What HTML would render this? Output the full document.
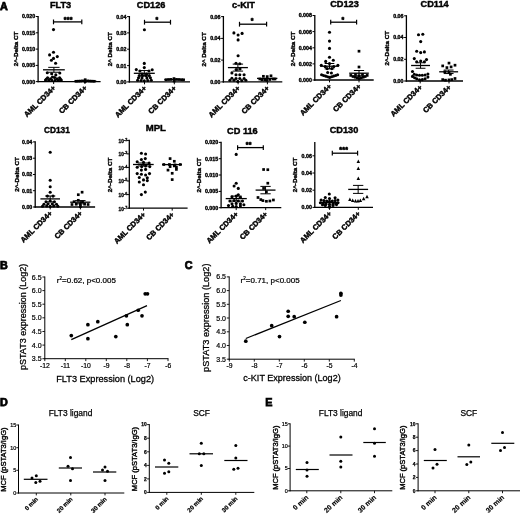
<!DOCTYPE html>
<html lang="en"><head><meta charset="utf-8"><title>Figure</title>
<style>html,body{margin:0;padding:0;background:#fff}svg{display:block}text{stroke:none}text.b,text.r{stroke:#000}circle,rect,polygon{stroke:none}</style></head><body>
<svg width="520" height="514" viewBox="0 0 520 514" font-family='"Liberation Sans", Arial, sans-serif' fill="#000" stroke="#000" stroke-linecap="butt">
<rect x="0" y="0" width="520" height="514" fill="#fff" stroke="none"/>
<g>
<text x="0.10" y="10.00" font-size="10.8" font-weight="bold" class="b" stroke-width="0.75" text-anchor="start">A</text>
<text x="0.00" y="269.20" font-size="10.8" font-weight="bold" class="b" stroke-width="0.75" text-anchor="start">B</text>
<text x="184.80" y="269.20" font-size="10.8" font-weight="bold" class="b" stroke-width="0.75" text-anchor="start">C</text>
<text x="0.00" y="406.20" font-size="10.8" font-weight="bold" class="b" stroke-width="0.75" text-anchor="start">D</text>
<text x="265.20" y="406.40" font-size="10.8" font-weight="bold" class="b" stroke-width="0.75" text-anchor="start">E</text>
<text x="60.60" y="7.70" font-size="9.2" font-weight="bold" class="b" stroke-width="0.41" text-anchor="middle">FLT3</text>
<line x1="38.10" y1="15.90" x2="38.10" y2="82.25" stroke-width="1.3"/>
<line x1="37.45" y1="81.60" x2="100.60" y2="81.60" stroke-width="1.3"/>
<line x1="35.80" y1="16.50" x2="38.10" y2="16.50" stroke-width="1.0"/>
<text x="35.20" y="18.40" font-size="5.3" font-weight="bold" class="b" stroke-width="0.36" text-anchor="end">0.020</text>
<line x1="35.80" y1="32.80" x2="38.10" y2="32.80" stroke-width="1.0"/>
<text x="35.20" y="34.70" font-size="5.3" font-weight="bold" class="b" stroke-width="0.36" text-anchor="end">0.015</text>
<line x1="35.80" y1="49.10" x2="38.10" y2="49.10" stroke-width="1.0"/>
<text x="35.20" y="51.00" font-size="5.3" font-weight="bold" class="b" stroke-width="0.36" text-anchor="end">0.010</text>
<line x1="35.80" y1="65.40" x2="38.10" y2="65.40" stroke-width="1.0"/>
<text x="35.20" y="67.30" font-size="5.3" font-weight="bold" class="b" stroke-width="0.36" text-anchor="end">0.005</text>
<line x1="35.80" y1="81.60" x2="38.10" y2="81.60" stroke-width="1.0"/>
<text x="35.20" y="83.50" font-size="5.3" font-weight="bold" class="b" stroke-width="0.36" text-anchor="end">0.000</text>
<line x1="53.65" y1="81.60" x2="53.65" y2="84.00" stroke-width="1.0"/>
<line x1="84.95" y1="81.60" x2="84.95" y2="84.00" stroke-width="1.0"/>
<text x="18.40" y="48.90" font-size="6.25" font-weight="bold" class="b" stroke-width="0.38" text-anchor="middle" transform="rotate(-90 18.40 48.90)">2^-Delta CT</text>
<text x="56.15" y="88.50" font-size="7.4" font-weight="bold" class="b" stroke-width="0.42" text-anchor="end" transform="rotate(-45 56.15 88.50)">AML CD34+</text>
<text x="87.45" y="88.50" font-size="7.4" font-weight="bold" class="b" stroke-width="0.42" text-anchor="end" transform="rotate(-45 87.45 88.50)">CB CD34+</text>
<line x1="53.50" y1="21.90" x2="81.80" y2="21.90" stroke-width="1.3"/>
<line x1="53.50" y1="19.50" x2="53.50" y2="24.30" stroke-width="1.2"/>
<line x1="81.80" y1="19.50" x2="81.80" y2="24.30" stroke-width="1.2"/>
<text x="68.30" y="21.90" font-size="7.0" font-weight="bold" class="b" stroke-width="0.55" text-anchor="middle" letter-spacing="0.3">***</text>
<circle cx="53.50" cy="29.60" r="1.55"/>
<circle cx="53.50" cy="52.30" r="1.55"/>
<circle cx="49.60" cy="54.90" r="1.55"/>
<circle cx="57.30" cy="56.60" r="1.55"/>
<circle cx="53.50" cy="58.40" r="1.55"/>
<circle cx="51.40" cy="60.20" r="1.55"/>
<circle cx="55.60" cy="63.30" r="1.55"/>
<circle cx="47.30" cy="72.80" r="1.55"/>
<circle cx="59.80" cy="73.00" r="1.55"/>
<circle cx="51.70" cy="73.70" r="1.55"/>
<circle cx="55.80" cy="74.90" r="1.55"/>
<circle cx="47.60" cy="77.80" r="1.55"/>
<circle cx="52.50" cy="77.00" r="1.55"/>
<circle cx="54.60" cy="77.50" r="1.55"/>
<circle cx="59.60" cy="77.80" r="1.55"/>
<circle cx="46.40" cy="79.00" r="1.55"/>
<circle cx="50.50" cy="78.70" r="1.55"/>
<circle cx="57.00" cy="78.70" r="1.55"/>
<circle cx="60.40" cy="79.00" r="1.55"/>
<circle cx="45.50" cy="80.10" r="1.55"/>
<circle cx="48.80" cy="80.40" r="1.55"/>
<circle cx="52.00" cy="80.40" r="1.55"/>
<circle cx="55.20" cy="80.40" r="1.55"/>
<circle cx="58.40" cy="80.40" r="1.55"/>
<circle cx="61.30" cy="80.10" r="1.55"/>
<rect x="74.65" y="79.95" width="2.7" height="2.7"/>
<rect x="76.85" y="79.85" width="2.7" height="2.7"/>
<rect x="79.05" y="79.75" width="2.7" height="2.7"/>
<rect x="81.25" y="79.55" width="2.7" height="2.7"/>
<rect x="83.85" y="78.35" width="2.7" height="2.7"/>
<rect x="86.25" y="79.55" width="2.7" height="2.7"/>
<rect x="88.45" y="79.75" width="2.7" height="2.7"/>
<rect x="90.65" y="79.85" width="2.7" height="2.7"/>
<rect x="92.85" y="79.95" width="2.7" height="2.7"/>
<rect x="83.85" y="80.25" width="2.7" height="2.7"/>
<line x1="43.00" y1="69.80" x2="64.80" y2="69.80" stroke-width="1.3"/>
<line x1="48.23" y1="67.35" x2="59.57" y2="67.35" stroke-width="1.0"/>
<line x1="48.23" y1="72.25" x2="59.57" y2="72.25" stroke-width="1.0"/>
<line x1="53.90" y1="67.35" x2="53.90" y2="72.25" stroke-width="1.0"/>
<line x1="74.40" y1="81.20" x2="96.40" y2="81.20" stroke-width="1.3"/>
<text x="151.10" y="7.70" font-size="9.2" font-weight="bold" class="b" stroke-width="0.41" text-anchor="middle">CD126</text>
<line x1="129.40" y1="16.00" x2="129.40" y2="82.55" stroke-width="1.3"/>
<line x1="128.75" y1="81.90" x2="190.00" y2="81.90" stroke-width="1.3"/>
<line x1="127.10" y1="16.60" x2="129.40" y2="16.60" stroke-width="1.0"/>
<text x="126.50" y="18.50" font-size="5.3" font-weight="bold" class="b" stroke-width="0.36" text-anchor="end">0.04</text>
<line x1="127.10" y1="32.90" x2="129.40" y2="32.90" stroke-width="1.0"/>
<text x="126.50" y="34.80" font-size="5.3" font-weight="bold" class="b" stroke-width="0.36" text-anchor="end">0.03</text>
<line x1="127.10" y1="49.20" x2="129.40" y2="49.20" stroke-width="1.0"/>
<text x="126.50" y="51.10" font-size="5.3" font-weight="bold" class="b" stroke-width="0.36" text-anchor="end">0.02</text>
<line x1="127.10" y1="65.60" x2="129.40" y2="65.60" stroke-width="1.0"/>
<text x="126.50" y="67.50" font-size="5.3" font-weight="bold" class="b" stroke-width="0.36" text-anchor="end">0.01</text>
<line x1="127.10" y1="81.90" x2="129.40" y2="81.90" stroke-width="1.0"/>
<text x="126.50" y="83.80" font-size="5.3" font-weight="bold" class="b" stroke-width="0.36" text-anchor="end">0.00</text>
<line x1="144.50" y1="81.90" x2="144.50" y2="84.30" stroke-width="1.0"/>
<line x1="174.30" y1="81.90" x2="174.30" y2="84.30" stroke-width="1.0"/>
<text x="111.60" y="49.20" font-size="6.25" font-weight="bold" class="b" stroke-width="0.38" text-anchor="middle" transform="rotate(-90 111.60 49.20)">2^ Delta CT</text>
<text x="147.00" y="88.80" font-size="7.4" font-weight="bold" class="b" stroke-width="0.42" text-anchor="end" transform="rotate(-45 147.00 88.80)">AML CD34+</text>
<text x="176.80" y="88.80" font-size="7.4" font-weight="bold" class="b" stroke-width="0.42" text-anchor="end" transform="rotate(-45 176.80 88.80)">CB CD34+</text>
<line x1="144.50" y1="22.20" x2="170.50" y2="22.20" stroke-width="1.3"/>
<line x1="144.50" y1="19.80" x2="144.50" y2="24.60" stroke-width="1.2"/>
<line x1="170.50" y1="19.80" x2="170.50" y2="24.60" stroke-width="1.2"/>
<text x="156.95" y="22.00" font-size="7.0" font-weight="bold" class="b" stroke-width="0.55" text-anchor="middle" letter-spacing="0.3">*</text>
<circle cx="144.40" cy="29.70" r="1.55"/>
<circle cx="144.30" cy="63.40" r="1.55"/>
<circle cx="144.30" cy="67.60" r="1.55"/>
<circle cx="136.30" cy="69.60" r="1.55"/>
<circle cx="152.20" cy="69.70" r="1.55"/>
<circle cx="139.90" cy="71.00" r="1.55"/>
<circle cx="149.00" cy="71.00" r="1.55"/>
<circle cx="142.00" cy="74.05" r="1.55"/>
<circle cx="146.60" cy="74.05" r="1.55"/>
<circle cx="139.30" cy="75.50" r="1.55"/>
<circle cx="142.50" cy="75.60" r="1.55"/>
<circle cx="146.00" cy="75.60" r="1.55"/>
<circle cx="149.30" cy="75.50" r="1.55"/>
<circle cx="138.50" cy="77.80" r="1.55"/>
<circle cx="142.00" cy="78.10" r="1.55"/>
<circle cx="146.90" cy="78.10" r="1.55"/>
<circle cx="150.40" cy="77.80" r="1.55"/>
<circle cx="137.60" cy="80.20" r="1.55"/>
<circle cx="141.10" cy="80.50" r="1.55"/>
<circle cx="144.30" cy="80.80" r="1.55"/>
<circle cx="147.80" cy="80.50" r="1.55"/>
<circle cx="151.30" cy="80.20" r="1.55"/>
<rect x="164.65" y="78.35" width="2.7" height="2.7"/>
<rect x="167.15" y="78.15" width="2.7" height="2.7"/>
<rect x="169.65" y="78.05" width="2.7" height="2.7"/>
<rect x="172.65" y="77.25" width="2.7" height="2.7"/>
<rect x="175.15" y="78.05" width="2.7" height="2.7"/>
<rect x="177.65" y="78.15" width="2.7" height="2.7"/>
<rect x="180.15" y="78.35" width="2.7" height="2.7"/>
<rect x="182.15" y="78.45" width="2.7" height="2.7"/>
<rect x="172.85" y="79.65" width="2.7" height="2.7"/>
<line x1="133.80" y1="73.30" x2="154.80" y2="73.30" stroke-width="1.3"/>
<line x1="138.84" y1="70.55" x2="149.76" y2="70.55" stroke-width="1.0"/>
<line x1="138.84" y1="76.05" x2="149.76" y2="76.05" stroke-width="1.0"/>
<line x1="144.30" y1="70.55" x2="144.30" y2="76.05" stroke-width="1.0"/>
<line x1="164.30" y1="79.60" x2="184.90" y2="79.60" stroke-width="1.3"/>
<text x="243.50" y="7.50" font-size="9.2" font-weight="bold" class="b" stroke-width="0.41" text-anchor="middle">c-KIT</text>
<line x1="223.40" y1="16.00" x2="223.40" y2="82.55" stroke-width="1.3"/>
<line x1="222.75" y1="81.90" x2="282.30" y2="81.90" stroke-width="1.3"/>
<line x1="221.10" y1="16.60" x2="223.40" y2="16.60" stroke-width="1.0"/>
<text x="220.50" y="18.50" font-size="5.3" font-weight="bold" class="b" stroke-width="0.36" text-anchor="end">0.06</text>
<line x1="221.10" y1="38.40" x2="223.40" y2="38.40" stroke-width="1.0"/>
<text x="220.50" y="40.30" font-size="5.3" font-weight="bold" class="b" stroke-width="0.36" text-anchor="end">0.04</text>
<line x1="221.10" y1="60.10" x2="223.40" y2="60.10" stroke-width="1.0"/>
<text x="220.50" y="62.00" font-size="5.3" font-weight="bold" class="b" stroke-width="0.36" text-anchor="end">0.02</text>
<line x1="221.10" y1="81.90" x2="223.40" y2="81.90" stroke-width="1.0"/>
<text x="220.50" y="83.80" font-size="5.3" font-weight="bold" class="b" stroke-width="0.36" text-anchor="end">0.00</text>
<line x1="238.10" y1="81.90" x2="238.10" y2="84.30" stroke-width="1.0"/>
<line x1="267.40" y1="81.90" x2="267.40" y2="84.30" stroke-width="1.0"/>
<text x="206.00" y="49.40" font-size="6.25" font-weight="bold" class="b" stroke-width="0.38" text-anchor="middle" transform="rotate(-90 206.00 49.40)">2^ Delta CT</text>
<text x="240.60" y="88.80" font-size="7.4" font-weight="bold" class="b" stroke-width="0.42" text-anchor="end" transform="rotate(-45 240.60 88.80)">AML CD34+</text>
<text x="269.90" y="88.80" font-size="7.4" font-weight="bold" class="b" stroke-width="0.42" text-anchor="end" transform="rotate(-45 269.90 88.80)">CB CD34+</text>
<line x1="239.50" y1="24.20" x2="266.60" y2="24.20" stroke-width="1.3"/>
<line x1="239.50" y1="21.80" x2="239.50" y2="26.60" stroke-width="1.2"/>
<line x1="266.60" y1="21.80" x2="266.60" y2="26.60" stroke-width="1.2"/>
<text x="252.35" y="23.40" font-size="7.0" font-weight="bold" class="b" stroke-width="0.55" text-anchor="middle" letter-spacing="0.3">*</text>
<circle cx="233.90" cy="32.90" r="1.55"/>
<circle cx="238.10" cy="35.00" r="1.55"/>
<circle cx="242.10" cy="33.40" r="1.55"/>
<circle cx="238.10" cy="39.90" r="1.55"/>
<circle cx="238.10" cy="55.80" r="1.55"/>
<circle cx="236.00" cy="63.30" r="1.55"/>
<circle cx="239.80" cy="63.70" r="1.55"/>
<circle cx="236.20" cy="69.60" r="1.55"/>
<circle cx="240.00" cy="69.00" r="1.55"/>
<circle cx="231.90" cy="72.90" r="1.55"/>
<circle cx="236.00" cy="74.70" r="1.55"/>
<circle cx="239.80" cy="74.70" r="1.55"/>
<circle cx="244.10" cy="74.70" r="1.55"/>
<circle cx="231.90" cy="78.20" r="1.55"/>
<circle cx="236.00" cy="78.50" r="1.55"/>
<circle cx="239.80" cy="78.50" r="1.55"/>
<circle cx="244.10" cy="78.50" r="1.55"/>
<circle cx="229.90" cy="80.20" r="1.55"/>
<circle cx="234.00" cy="80.30" r="1.55"/>
<circle cx="241.80" cy="80.60" r="1.55"/>
<circle cx="245.90" cy="80.20" r="1.55"/>
<circle cx="237.80" cy="81.40" r="1.55"/>
<rect x="262.05" y="74.95" width="2.7" height="2.7"/>
<rect x="265.85" y="75.25" width="2.7" height="2.7"/>
<rect x="269.65" y="74.45" width="2.7" height="2.7"/>
<rect x="258.45" y="77.65" width="2.7" height="2.7"/>
<rect x="260.65" y="78.45" width="2.7" height="2.7"/>
<rect x="263.45" y="78.55" width="2.7" height="2.7"/>
<rect x="265.65" y="79.05" width="2.7" height="2.7"/>
<rect x="268.45" y="78.15" width="2.7" height="2.7"/>
<rect x="271.65" y="77.65" width="2.7" height="2.7"/>
<rect x="273.65" y="77.65" width="2.7" height="2.7"/>
<line x1="227.90" y1="67.60" x2="247.90" y2="67.60" stroke-width="1.3"/>
<line x1="232.70" y1="64.10" x2="243.10" y2="64.10" stroke-width="1.0"/>
<line x1="232.70" y1="71.10" x2="243.10" y2="71.10" stroke-width="1.0"/>
<line x1="237.90" y1="64.10" x2="237.90" y2="71.10" stroke-width="1.0"/>
<line x1="257.00" y1="78.40" x2="277.40" y2="78.40" stroke-width="1.3"/>
<text x="344.50" y="6.80" font-size="9.2" font-weight="bold" class="b" stroke-width="0.41" text-anchor="middle">CD123</text>
<line x1="314.80" y1="14.90" x2="314.80" y2="80.65" stroke-width="1.3"/>
<line x1="314.15" y1="80.00" x2="373.70" y2="80.00" stroke-width="1.3"/>
<line x1="312.50" y1="15.50" x2="314.80" y2="15.50" stroke-width="1.0"/>
<text x="311.90" y="17.40" font-size="5.3" font-weight="bold" class="b" stroke-width="0.36" text-anchor="end">0.008</text>
<line x1="312.50" y1="31.60" x2="314.80" y2="31.60" stroke-width="1.0"/>
<text x="311.90" y="33.50" font-size="5.3" font-weight="bold" class="b" stroke-width="0.36" text-anchor="end">0.006</text>
<line x1="312.50" y1="47.80" x2="314.80" y2="47.80" stroke-width="1.0"/>
<text x="311.90" y="49.70" font-size="5.3" font-weight="bold" class="b" stroke-width="0.36" text-anchor="end">0.004</text>
<line x1="312.50" y1="63.90" x2="314.80" y2="63.90" stroke-width="1.0"/>
<text x="311.90" y="65.80" font-size="5.3" font-weight="bold" class="b" stroke-width="0.36" text-anchor="end">0.002</text>
<line x1="312.50" y1="80.00" x2="314.80" y2="80.00" stroke-width="1.0"/>
<text x="311.90" y="81.90" font-size="5.3" font-weight="bold" class="b" stroke-width="0.36" text-anchor="end">0.000</text>
<line x1="329.50" y1="80.00" x2="329.50" y2="82.40" stroke-width="1.0"/>
<line x1="359.00" y1="80.00" x2="359.00" y2="82.40" stroke-width="1.0"/>
<text x="295.30" y="49.00" font-size="6.25" font-weight="bold" class="b" stroke-width="0.38" text-anchor="middle" transform="rotate(-90 295.30 49.00)">2^-Delta CT</text>
<text x="332.00" y="86.90" font-size="7.4" font-weight="bold" class="b" stroke-width="0.42" text-anchor="end" transform="rotate(-45 332.00 86.90)">AML CD34+</text>
<text x="361.50" y="86.90" font-size="7.4" font-weight="bold" class="b" stroke-width="0.42" text-anchor="end" transform="rotate(-45 361.50 86.90)">CB CD34+</text>
<line x1="330.70" y1="22.20" x2="356.60" y2="22.20" stroke-width="1.3"/>
<line x1="330.70" y1="19.80" x2="330.70" y2="24.60" stroke-width="1.2"/>
<line x1="356.60" y1="19.80" x2="356.60" y2="24.60" stroke-width="1.2"/>
<text x="343.05" y="21.70" font-size="7.0" font-weight="bold" class="b" stroke-width="0.55" text-anchor="middle" letter-spacing="0.3">*</text>
<circle cx="329.50" cy="32.20" r="1.55"/>
<circle cx="329.50" cy="41.10" r="1.55"/>
<circle cx="329.50" cy="48.40" r="1.55"/>
<circle cx="329.50" cy="57.20" r="1.55"/>
<circle cx="325.70" cy="61.40" r="1.55"/>
<circle cx="333.30" cy="60.30" r="1.55"/>
<circle cx="321.30" cy="65.20" r="1.55"/>
<circle cx="325.20" cy="66.60" r="1.55"/>
<circle cx="329.50" cy="63.60" r="1.55"/>
<circle cx="333.80" cy="66.60" r="1.55"/>
<circle cx="337.90" cy="65.20" r="1.55"/>
<circle cx="327.20" cy="68.60" r="1.55"/>
<circle cx="331.80" cy="68.60" r="1.55"/>
<circle cx="327.70" cy="72.50" r="1.55"/>
<circle cx="331.40" cy="73.00" r="1.55"/>
<circle cx="321.60" cy="74.80" r="1.55"/>
<circle cx="323.60" cy="75.50" r="1.55"/>
<circle cx="325.60" cy="76.10" r="1.55"/>
<circle cx="327.60" cy="76.70" r="1.55"/>
<circle cx="329.60" cy="77.40" r="1.55"/>
<circle cx="331.60" cy="76.70" r="1.55"/>
<circle cx="333.60" cy="76.10" r="1.55"/>
<circle cx="335.60" cy="75.50" r="1.55"/>
<circle cx="337.60" cy="74.80" r="1.55"/>
<rect x="357.65" y="49.85" width="2.7" height="2.7"/>
<rect x="357.65" y="65.65" width="2.7" height="2.7"/>
<rect x="349.45" y="74.05" width="2.7" height="2.7"/>
<rect x="365.85" y="74.05" width="2.7" height="2.7"/>
<rect x="351.65" y="75.15" width="2.7" height="2.7"/>
<rect x="353.85" y="75.85" width="2.7" height="2.7"/>
<rect x="355.85" y="76.45" width="2.7" height="2.7"/>
<rect x="357.85" y="77.15" width="2.7" height="2.7"/>
<rect x="359.85" y="76.45" width="2.7" height="2.7"/>
<rect x="361.85" y="75.85" width="2.7" height="2.7"/>
<rect x="363.85" y="75.15" width="2.7" height="2.7"/>
<rect x="354.15" y="73.15" width="2.7" height="2.7"/>
<rect x="361.15" y="73.15" width="2.7" height="2.7"/>
<rect x="357.65" y="74.45" width="2.7" height="2.7"/>
<line x1="320.20" y1="66.20" x2="338.80" y2="66.20" stroke-width="1.3"/>
<line x1="324.66" y1="63.50" x2="334.34" y2="63.50" stroke-width="1.0"/>
<line x1="324.66" y1="68.90" x2="334.34" y2="68.90" stroke-width="1.0"/>
<line x1="329.50" y1="63.50" x2="329.50" y2="68.90" stroke-width="1.0"/>
<line x1="349.20" y1="73.20" x2="368.80" y2="73.20" stroke-width="1.3"/>
<line x1="353.90" y1="70.50" x2="364.10" y2="70.50" stroke-width="1.0"/>
<line x1="353.90" y1="75.90" x2="364.10" y2="75.90" stroke-width="1.0"/>
<line x1="359.00" y1="70.50" x2="359.00" y2="75.90" stroke-width="1.0"/>
<text x="434.60" y="6.50" font-size="9.2" font-weight="bold" class="b" stroke-width="0.41" text-anchor="middle">CD114</text>
<line x1="406.40" y1="15.20" x2="406.40" y2="81.65" stroke-width="1.3"/>
<line x1="405.75" y1="81.00" x2="463.00" y2="81.00" stroke-width="1.3"/>
<line x1="404.10" y1="15.80" x2="406.40" y2="15.80" stroke-width="1.0"/>
<text x="403.50" y="17.70" font-size="5.3" font-weight="bold" class="b" stroke-width="0.36" text-anchor="end">0.06</text>
<line x1="404.10" y1="37.50" x2="406.40" y2="37.50" stroke-width="1.0"/>
<text x="403.50" y="39.40" font-size="5.3" font-weight="bold" class="b" stroke-width="0.36" text-anchor="end">0.04</text>
<line x1="404.10" y1="59.30" x2="406.40" y2="59.30" stroke-width="1.0"/>
<text x="403.50" y="61.20" font-size="5.3" font-weight="bold" class="b" stroke-width="0.36" text-anchor="end">0.02</text>
<line x1="404.10" y1="81.00" x2="406.40" y2="81.00" stroke-width="1.0"/>
<text x="403.50" y="82.90" font-size="5.3" font-weight="bold" class="b" stroke-width="0.36" text-anchor="end">0.00</text>
<line x1="420.20" y1="81.00" x2="420.20" y2="83.40" stroke-width="1.0"/>
<line x1="449.00" y1="81.00" x2="449.00" y2="83.40" stroke-width="1.0"/>
<text x="389.30" y="48.30" font-size="6.25" font-weight="bold" class="b" stroke-width="0.38" text-anchor="middle" transform="rotate(-90 389.30 48.30)">2^-Delta CT</text>
<text x="422.70" y="87.90" font-size="7.4" font-weight="bold" class="b" stroke-width="0.42" text-anchor="end" transform="rotate(-45 422.70 87.90)">AML CD34+</text>
<text x="451.50" y="87.90" font-size="7.4" font-weight="bold" class="b" stroke-width="0.42" text-anchor="end" transform="rotate(-45 451.50 87.90)">CB CD34+</text>
<circle cx="418.50" cy="34.80" r="1.55"/>
<circle cx="422.80" cy="34.30" r="1.55"/>
<circle cx="420.70" cy="41.60" r="1.55"/>
<circle cx="416.70" cy="51.20" r="1.55"/>
<circle cx="420.70" cy="52.60" r="1.55"/>
<circle cx="424.40" cy="51.90" r="1.55"/>
<circle cx="414.30" cy="58.60" r="1.55"/>
<circle cx="426.50" cy="59.60" r="1.55"/>
<circle cx="416.70" cy="61.70" r="1.55"/>
<circle cx="420.70" cy="61.00" r="1.55"/>
<circle cx="424.40" cy="61.70" r="1.55"/>
<circle cx="412.50" cy="71.50" r="1.55"/>
<circle cx="414.30" cy="74.30" r="1.55"/>
<circle cx="416.70" cy="75.00" r="1.55"/>
<circle cx="419.50" cy="75.30" r="1.55"/>
<circle cx="422.30" cy="75.30" r="1.55"/>
<circle cx="425.10" cy="75.00" r="1.55"/>
<circle cx="427.90" cy="74.00" r="1.55"/>
<circle cx="412.50" cy="76.40" r="1.55"/>
<circle cx="414.60" cy="77.80" r="1.55"/>
<circle cx="416.70" cy="78.80" r="1.55"/>
<circle cx="419.50" cy="79.90" r="1.55"/>
<circle cx="422.30" cy="79.60" r="1.55"/>
<circle cx="425.10" cy="78.80" r="1.55"/>
<circle cx="427.90" cy="77.10" r="1.55"/>
<rect x="447.65" y="61.75" width="2.7" height="2.7"/>
<rect x="441.35" y="64.55" width="2.7" height="2.7"/>
<rect x="453.65" y="63.85" width="2.7" height="2.7"/>
<rect x="445.55" y="66.25" width="2.7" height="2.7"/>
<rect x="449.75" y="65.55" width="2.7" height="2.7"/>
<rect x="443.45" y="70.45" width="2.7" height="2.7"/>
<rect x="447.65" y="71.25" width="2.7" height="2.7"/>
<rect x="449.05" y="72.95" width="2.7" height="2.7"/>
<rect x="441.35" y="78.25" width="2.7" height="2.7"/>
<rect x="444.15" y="78.85" width="2.7" height="2.7"/>
<rect x="447.65" y="78.55" width="2.7" height="2.7"/>
<rect x="450.45" y="78.25" width="2.7" height="2.7"/>
<rect x="453.65" y="77.15" width="2.7" height="2.7"/>
<line x1="411.10" y1="65.50" x2="430.00" y2="65.50" stroke-width="1.3"/>
<line x1="415.64" y1="62.75" x2="425.46" y2="62.75" stroke-width="1.0"/>
<line x1="415.64" y1="68.25" x2="425.46" y2="68.25" stroke-width="1.0"/>
<line x1="420.55" y1="62.75" x2="420.55" y2="68.25" stroke-width="1.0"/>
<line x1="439.20" y1="71.80" x2="458.10" y2="71.80" stroke-width="1.3"/>
<line x1="443.74" y1="70.05" x2="453.56" y2="70.05" stroke-width="1.0"/>
<line x1="443.74" y1="73.55" x2="453.56" y2="73.55" stroke-width="1.0"/>
<line x1="448.65" y1="70.05" x2="448.65" y2="73.55" stroke-width="1.0"/>
<text x="56.90" y="133.20" font-size="8.3" font-weight="bold" class="b" stroke-width="0.37" text-anchor="middle">CD131</text>
<line x1="35.20" y1="141.30" x2="35.20" y2="207.65" stroke-width="1.3"/>
<line x1="34.55" y1="207.00" x2="95.10" y2="207.00" stroke-width="1.3"/>
<line x1="32.90" y1="141.90" x2="35.20" y2="141.90" stroke-width="1.0"/>
<text x="32.30" y="143.80" font-size="5.3" font-weight="bold" class="b" stroke-width="0.36" text-anchor="end">0.04</text>
<line x1="32.90" y1="158.20" x2="35.20" y2="158.20" stroke-width="1.0"/>
<text x="32.30" y="160.10" font-size="5.3" font-weight="bold" class="b" stroke-width="0.36" text-anchor="end">0.03</text>
<line x1="32.90" y1="174.50" x2="35.20" y2="174.50" stroke-width="1.0"/>
<text x="32.30" y="176.40" font-size="5.3" font-weight="bold" class="b" stroke-width="0.36" text-anchor="end">0.02</text>
<line x1="32.90" y1="190.70" x2="35.20" y2="190.70" stroke-width="1.0"/>
<text x="32.30" y="192.60" font-size="5.3" font-weight="bold" class="b" stroke-width="0.36" text-anchor="end">0.01</text>
<line x1="32.90" y1="207.00" x2="35.20" y2="207.00" stroke-width="1.0"/>
<text x="32.30" y="208.90" font-size="5.3" font-weight="bold" class="b" stroke-width="0.36" text-anchor="end">0.00</text>
<line x1="50.20" y1="207.00" x2="50.20" y2="209.40" stroke-width="1.0"/>
<line x1="80.40" y1="207.00" x2="80.40" y2="209.40" stroke-width="1.0"/>
<text x="19.00" y="174.40" font-size="6.25" font-weight="bold" class="b" stroke-width="0.38" text-anchor="middle" transform="rotate(-90 19.00 174.40)">2^-Delta CT</text>
<text x="52.70" y="213.90" font-size="7.4" font-weight="bold" class="b" stroke-width="0.42" text-anchor="end" transform="rotate(-45 52.70 213.90)">AML CD34+</text>
<text x="82.90" y="213.90" font-size="7.4" font-weight="bold" class="b" stroke-width="0.42" text-anchor="end" transform="rotate(-45 82.90 213.90)">CB CD34+</text>
<circle cx="50.20" cy="152.20" r="1.55"/>
<circle cx="50.20" cy="180.30" r="1.55"/>
<circle cx="50.20" cy="186.70" r="1.55"/>
<circle cx="50.20" cy="192.20" r="1.55"/>
<circle cx="47.40" cy="196.10" r="1.55"/>
<circle cx="53.00" cy="196.10" r="1.55"/>
<circle cx="46.00" cy="201.70" r="1.55"/>
<circle cx="50.20" cy="201.00" r="1.55"/>
<circle cx="54.40" cy="201.70" r="1.55"/>
<circle cx="43.90" cy="204.20" r="1.55"/>
<circle cx="48.10" cy="203.80" r="1.55"/>
<circle cx="52.30" cy="203.80" r="1.55"/>
<circle cx="56.50" cy="204.20" r="1.55"/>
<circle cx="42.50" cy="206.20" r="1.55"/>
<circle cx="46.70" cy="205.90" r="1.55"/>
<circle cx="50.20" cy="206.40" r="1.55"/>
<circle cx="53.70" cy="205.90" r="1.55"/>
<circle cx="57.90" cy="206.20" r="1.55"/>
<rect x="76.95" y="193.35" width="2.7" height="2.7"/>
<rect x="80.75" y="190.85" width="2.7" height="2.7"/>
<rect x="76.95" y="198.95" width="2.7" height="2.7"/>
<rect x="72.75" y="200.35" width="2.7" height="2.7"/>
<rect x="81.15" y="200.35" width="2.7" height="2.7"/>
<rect x="70.65" y="203.15" width="2.7" height="2.7"/>
<rect x="74.85" y="202.85" width="2.7" height="2.7"/>
<rect x="79.05" y="203.15" width="2.7" height="2.7"/>
<rect x="83.25" y="202.85" width="2.7" height="2.7"/>
<rect x="86.75" y="203.15" width="2.7" height="2.7"/>
<rect x="79.05" y="205.25" width="2.7" height="2.7"/>
<line x1="40.40" y1="198.90" x2="60.00" y2="198.90" stroke-width="1.3"/>
<line x1="45.10" y1="196.00" x2="55.30" y2="196.00" stroke-width="1.0"/>
<line x1="45.10" y1="201.80" x2="55.30" y2="201.80" stroke-width="1.0"/>
<line x1="50.20" y1="196.00" x2="50.20" y2="201.80" stroke-width="1.0"/>
<line x1="70.20" y1="202.20" x2="90.40" y2="202.20" stroke-width="1.3"/>
<line x1="75.05" y1="200.60" x2="85.55" y2="200.60" stroke-width="1.0"/>
<line x1="75.05" y1="203.80" x2="85.55" y2="203.80" stroke-width="1.0"/>
<line x1="80.30" y1="200.60" x2="80.30" y2="203.80" stroke-width="1.0"/>
<text x="155.80" y="131.10" font-size="9.6" font-weight="bold" class="b" stroke-width="0.43" text-anchor="middle">MPL</text>
<line x1="129.30" y1="139.80" x2="129.30" y2="208.85" stroke-width="1.3"/>
<line x1="128.65" y1="208.20" x2="187.60" y2="208.20" stroke-width="1.3"/>
<line x1="127.00" y1="140.40" x2="129.30" y2="140.40" stroke-width="1.0"/>
<text x="127.20" y="142.70" font-size="4.8" font-weight="bold" class="b" stroke-width="0.3" text-anchor="end">10<tspan dy="-2.0" font-size="3.7">-2</tspan></text>
<line x1="127.00" y1="153.90" x2="129.30" y2="153.90" stroke-width="1.0"/>
<text x="127.20" y="156.20" font-size="4.8" font-weight="bold" class="b" stroke-width="0.3" text-anchor="end">10<tspan dy="-2.0" font-size="3.7">-3</tspan></text>
<line x1="127.00" y1="167.40" x2="129.30" y2="167.40" stroke-width="1.0"/>
<text x="127.20" y="169.70" font-size="4.8" font-weight="bold" class="b" stroke-width="0.3" text-anchor="end">10<tspan dy="-2.0" font-size="3.7">-4</tspan></text>
<line x1="127.00" y1="181.00" x2="129.30" y2="181.00" stroke-width="1.0"/>
<text x="127.20" y="183.30" font-size="4.8" font-weight="bold" class="b" stroke-width="0.3" text-anchor="end">10<tspan dy="-2.0" font-size="3.7">-5</tspan></text>
<line x1="127.00" y1="194.60" x2="129.30" y2="194.60" stroke-width="1.0"/>
<text x="127.20" y="196.90" font-size="4.8" font-weight="bold" class="b" stroke-width="0.3" text-anchor="end">10<tspan dy="-2.0" font-size="3.7">-6</tspan></text>
<line x1="127.00" y1="208.20" x2="129.30" y2="208.20" stroke-width="1.0"/>
<text x="127.20" y="210.50" font-size="4.8" font-weight="bold" class="b" stroke-width="0.3" text-anchor="end">10<tspan dy="-2.0" font-size="3.7">-7</tspan></text>
<line x1="143.50" y1="208.20" x2="143.50" y2="210.60" stroke-width="1.0"/>
<line x1="172.20" y1="208.20" x2="172.20" y2="210.60" stroke-width="1.0"/>
<text x="112.50" y="174.90" font-size="6.25" font-weight="bold" class="b" stroke-width="0.38" text-anchor="middle" transform="rotate(-90 112.50 174.90)">2^-Delta CT</text>
<text x="146.00" y="215.10" font-size="7.4" font-weight="bold" class="b" stroke-width="0.42" text-anchor="end" transform="rotate(-45 146.00 215.10)">AML CD34+</text>
<text x="174.70" y="215.10" font-size="7.4" font-weight="bold" class="b" stroke-width="0.42" text-anchor="end" transform="rotate(-45 174.70 215.10)">CB CD34+</text>
<circle cx="141.40" cy="153.30" r="1.55"/>
<circle cx="145.60" cy="154.00" r="1.55"/>
<circle cx="141.40" cy="159.60" r="1.55"/>
<circle cx="145.30" cy="158.60" r="1.55"/>
<circle cx="137.20" cy="161.70" r="1.55"/>
<circle cx="143.50" cy="162.40" r="1.55"/>
<circle cx="149.10" cy="163.10" r="1.55"/>
<circle cx="137.20" cy="167.30" r="1.55"/>
<circle cx="141.70" cy="166.60" r="1.55"/>
<circle cx="145.60" cy="165.90" r="1.55"/>
<circle cx="149.80" cy="166.60" r="1.55"/>
<circle cx="141.40" cy="170.10" r="1.55"/>
<circle cx="145.60" cy="169.40" r="1.55"/>
<circle cx="137.20" cy="173.60" r="1.55"/>
<circle cx="141.40" cy="174.30" r="1.55"/>
<circle cx="145.60" cy="175.00" r="1.55"/>
<circle cx="149.50" cy="173.60" r="1.55"/>
<circle cx="139.30" cy="177.50" r="1.55"/>
<circle cx="147.30" cy="177.80" r="1.55"/>
<circle cx="143.50" cy="179.90" r="1.55"/>
<circle cx="147.30" cy="180.60" r="1.55"/>
<circle cx="139.30" cy="182.00" r="1.55"/>
<circle cx="143.50" cy="184.80" r="1.55"/>
<circle cx="145.30" cy="192.10" r="1.55"/>
<circle cx="141.40" cy="194.60" r="1.55"/>
<rect x="168.75" y="157.25" width="2.7" height="2.7"/>
<rect x="172.95" y="159.95" width="2.7" height="2.7"/>
<rect x="162.45" y="163.15" width="2.7" height="2.7"/>
<rect x="168.05" y="163.15" width="2.7" height="2.7"/>
<rect x="173.65" y="163.55" width="2.7" height="2.7"/>
<rect x="178.95" y="163.15" width="2.7" height="2.7"/>
<rect x="168.75" y="165.25" width="2.7" height="2.7"/>
<rect x="172.95" y="164.55" width="2.7" height="2.7"/>
<rect x="175.05" y="165.95" width="2.7" height="2.7"/>
<rect x="166.65" y="168.75" width="2.7" height="2.7"/>
<rect x="175.05" y="168.05" width="2.7" height="2.7"/>
<rect x="170.85" y="171.95" width="2.7" height="2.7"/>
<rect x="170.85" y="178.25" width="2.7" height="2.7"/>
<line x1="133.00" y1="164.50" x2="153.70" y2="164.50" stroke-width="1.3"/>
<line x1="137.97" y1="163.00" x2="148.73" y2="163.00" stroke-width="1.0"/>
<line x1="137.97" y1="166.00" x2="148.73" y2="166.00" stroke-width="1.0"/>
<line x1="143.35" y1="163.00" x2="143.35" y2="166.00" stroke-width="1.0"/>
<line x1="162.00" y1="164.60" x2="182.00" y2="164.60" stroke-width="1.3"/>
<text x="242.40" y="133.80" font-size="9.2" font-weight="bold" class="b" stroke-width="0.41" text-anchor="middle">CD 116</text>
<line x1="221.10" y1="141.80" x2="221.10" y2="208.35" stroke-width="1.3"/>
<line x1="220.45" y1="207.70" x2="281.30" y2="207.70" stroke-width="1.3"/>
<line x1="218.80" y1="142.40" x2="221.10" y2="142.40" stroke-width="1.0"/>
<text x="218.20" y="144.30" font-size="5.3" font-weight="bold" class="b" stroke-width="0.36" text-anchor="end">0.020</text>
<line x1="218.80" y1="158.70" x2="221.10" y2="158.70" stroke-width="1.0"/>
<text x="218.20" y="160.60" font-size="5.3" font-weight="bold" class="b" stroke-width="0.36" text-anchor="end">0.015</text>
<line x1="218.80" y1="175.00" x2="221.10" y2="175.00" stroke-width="1.0"/>
<text x="218.20" y="176.90" font-size="5.3" font-weight="bold" class="b" stroke-width="0.36" text-anchor="end">0.010</text>
<line x1="218.80" y1="191.40" x2="221.10" y2="191.40" stroke-width="1.0"/>
<text x="218.20" y="193.30" font-size="5.3" font-weight="bold" class="b" stroke-width="0.36" text-anchor="end">0.005</text>
<line x1="218.80" y1="207.70" x2="221.10" y2="207.70" stroke-width="1.0"/>
<text x="218.20" y="209.60" font-size="5.3" font-weight="bold" class="b" stroke-width="0.36" text-anchor="end">0.000</text>
<line x1="236.20" y1="207.70" x2="236.20" y2="210.10" stroke-width="1.0"/>
<line x1="265.70" y1="207.70" x2="265.70" y2="210.10" stroke-width="1.0"/>
<text x="200.90" y="175.20" font-size="6.25" font-weight="bold" class="b" stroke-width="0.38" text-anchor="middle" transform="rotate(-90 200.90 175.20)">2^-Delta CT</text>
<text x="238.70" y="214.60" font-size="7.4" font-weight="bold" class="b" stroke-width="0.42" text-anchor="end" transform="rotate(-45 238.70 214.60)">AML CD34+</text>
<text x="268.20" y="214.60" font-size="7.4" font-weight="bold" class="b" stroke-width="0.42" text-anchor="end" transform="rotate(-45 268.20 214.60)">CB CD34+</text>
<line x1="237.60" y1="147.60" x2="263.30" y2="147.60" stroke-width="1.3"/>
<line x1="237.60" y1="145.20" x2="237.60" y2="150.00" stroke-width="1.2"/>
<line x1="263.30" y1="145.20" x2="263.30" y2="150.00" stroke-width="1.2"/>
<text x="248.75" y="147.30" font-size="7.0" font-weight="bold" class="b" stroke-width="0.55" text-anchor="middle" letter-spacing="0.3">**</text>
<circle cx="236.20" cy="154.40" r="1.55"/>
<circle cx="236.20" cy="183.20" r="1.55"/>
<circle cx="234.10" cy="186.00" r="1.55"/>
<circle cx="238.30" cy="188.40" r="1.55"/>
<circle cx="238.30" cy="194.70" r="1.55"/>
<circle cx="232.00" cy="196.80" r="1.55"/>
<circle cx="236.20" cy="196.10" r="1.55"/>
<circle cx="240.40" cy="197.20" r="1.55"/>
<circle cx="229.90" cy="201.00" r="1.55"/>
<circle cx="234.10" cy="200.60" r="1.55"/>
<circle cx="238.30" cy="201.00" r="1.55"/>
<circle cx="242.50" cy="201.00" r="1.55"/>
<circle cx="232.00" cy="203.80" r="1.55"/>
<circle cx="236.20" cy="203.40" r="1.55"/>
<circle cx="240.40" cy="203.80" r="1.55"/>
<circle cx="228.50" cy="205.60" r="1.55"/>
<circle cx="232.70" cy="206.20" r="1.55"/>
<circle cx="236.20" cy="206.60" r="1.55"/>
<circle cx="240.40" cy="205.90" r="1.55"/>
<circle cx="243.90" cy="204.80" r="1.55"/>
<rect x="262.25" y="168.15" width="2.7" height="2.7"/>
<rect x="266.45" y="168.35" width="2.7" height="2.7"/>
<rect x="266.45" y="181.85" width="2.7" height="2.7"/>
<rect x="262.25" y="187.05" width="2.7" height="2.7"/>
<rect x="265.05" y="190.55" width="2.7" height="2.7"/>
<rect x="256.65" y="196.15" width="2.7" height="2.7"/>
<rect x="259.45" y="198.25" width="2.7" height="2.7"/>
<rect x="261.55" y="199.25" width="2.7" height="2.7"/>
<rect x="265.05" y="199.95" width="2.7" height="2.7"/>
<rect x="268.55" y="199.65" width="2.7" height="2.7"/>
<rect x="272.05" y="198.65" width="2.7" height="2.7"/>
<line x1="225.70" y1="198.60" x2="246.80" y2="198.60" stroke-width="1.3"/>
<line x1="230.76" y1="196.10" x2="241.74" y2="196.10" stroke-width="1.0"/>
<line x1="230.76" y1="201.10" x2="241.74" y2="201.10" stroke-width="1.0"/>
<line x1="236.25" y1="196.10" x2="236.25" y2="201.10" stroke-width="1.0"/>
<line x1="255.60" y1="190.10" x2="275.50" y2="190.10" stroke-width="1.3"/>
<line x1="260.38" y1="186.40" x2="270.72" y2="186.40" stroke-width="1.0"/>
<line x1="260.38" y1="193.80" x2="270.72" y2="193.80" stroke-width="1.0"/>
<line x1="265.55" y1="186.40" x2="265.55" y2="193.80" stroke-width="1.0"/>
<text x="344.00" y="132.50" font-size="9.2" font-weight="bold" class="b" stroke-width="0.41" text-anchor="middle">CD130</text>
<line x1="314.80" y1="142.00" x2="314.80" y2="208.05" stroke-width="1.3"/>
<line x1="314.15" y1="207.40" x2="373.00" y2="207.40" stroke-width="1.3"/>
<line x1="312.50" y1="155.80" x2="314.80" y2="155.80" stroke-width="1.0"/>
<text x="311.90" y="157.70" font-size="5.3" font-weight="bold" class="b" stroke-width="0.36" text-anchor="end">0.06</text>
<line x1="312.50" y1="173.00" x2="314.80" y2="173.00" stroke-width="1.0"/>
<text x="311.90" y="174.90" font-size="5.3" font-weight="bold" class="b" stroke-width="0.36" text-anchor="end">0.04</text>
<line x1="312.50" y1="190.20" x2="314.80" y2="190.20" stroke-width="1.0"/>
<text x="311.90" y="192.10" font-size="5.3" font-weight="bold" class="b" stroke-width="0.36" text-anchor="end">0.02</text>
<line x1="312.50" y1="207.40" x2="314.80" y2="207.40" stroke-width="1.0"/>
<text x="311.90" y="209.30" font-size="5.3" font-weight="bold" class="b" stroke-width="0.36" text-anchor="end">0.00</text>
<line x1="329.50" y1="207.40" x2="329.50" y2="209.80" stroke-width="1.0"/>
<line x1="358.30" y1="207.40" x2="358.30" y2="209.80" stroke-width="1.0"/>
<text x="296.90" y="175.00" font-size="6.25" font-weight="bold" class="b" stroke-width="0.38" text-anchor="middle" transform="rotate(-90 296.90 175.00)">2^-Delta CT</text>
<text x="332.00" y="214.30" font-size="7.4" font-weight="bold" class="b" stroke-width="0.42" text-anchor="end" transform="rotate(-45 332.00 214.30)">AML CD34+</text>
<text x="360.80" y="214.30" font-size="7.4" font-weight="bold" class="b" stroke-width="0.42" text-anchor="end" transform="rotate(-45 360.80 214.30)">CB CD34+</text>
<line x1="332.30" y1="153.20" x2="357.60" y2="153.20" stroke-width="1.3"/>
<line x1="332.30" y1="150.80" x2="332.30" y2="155.60" stroke-width="1.2"/>
<line x1="357.60" y1="150.80" x2="357.60" y2="155.60" stroke-width="1.2"/>
<text x="343.75" y="151.90" font-size="7.0" font-weight="bold" class="b" stroke-width="0.55" text-anchor="middle" letter-spacing="0.3">***</text>
<circle cx="329.30" cy="194.00" r="1.55"/>
<circle cx="325.30" cy="197.50" r="1.55"/>
<circle cx="329.50" cy="198.60" r="1.55"/>
<circle cx="335.10" cy="197.80" r="1.55"/>
<circle cx="321.10" cy="200.00" r="1.55"/>
<circle cx="323.90" cy="200.60" r="1.55"/>
<circle cx="326.70" cy="201.00" r="1.55"/>
<circle cx="329.50" cy="201.40" r="1.55"/>
<circle cx="332.30" cy="201.00" r="1.55"/>
<circle cx="335.10" cy="200.60" r="1.55"/>
<circle cx="337.90" cy="200.00" r="1.55"/>
<circle cx="320.40" cy="202.80" r="1.55"/>
<circle cx="323.20" cy="203.40" r="1.55"/>
<circle cx="326.00" cy="204.00" r="1.55"/>
<circle cx="329.50" cy="204.20" r="1.55"/>
<circle cx="333.00" cy="204.00" r="1.55"/>
<circle cx="335.80" cy="203.40" r="1.55"/>
<circle cx="337.90" cy="202.80" r="1.55"/>
<circle cx="322.50" cy="204.80" r="1.55"/>
<circle cx="325.30" cy="205.40" r="1.55"/>
<circle cx="329.50" cy="206.20" r="1.55"/>
<circle cx="333.00" cy="205.40" r="1.55"/>
<circle cx="336.50" cy="204.60" r="1.55"/>
<circle cx="329.50" cy="207.20" r="1.55"/>
<polygon points="358.30,159.40 356.55,162.90 360.05,162.90"/>
<polygon points="358.30,166.40 356.55,169.90 360.05,169.90"/>
<polygon points="358.30,176.50 356.55,180.00 360.05,180.00"/>
<polygon points="367.00,194.70 365.25,198.20 368.75,198.20"/>
<polygon points="363.60,196.80 361.85,200.30 365.35,200.30"/>
<polygon points="349.90,197.50 348.15,201.00 351.65,201.00"/>
<polygon points="352.70,198.50 350.95,202.00 354.45,202.00"/>
<polygon points="355.50,198.90 353.75,202.40 357.25,202.40"/>
<polygon points="358.00,198.90 356.25,202.40 359.75,202.40"/>
<polygon points="360.40,198.50 358.65,202.00 362.15,202.00"/>
<line x1="319.40" y1="202.50" x2="339.30" y2="202.50" stroke-width="1.3"/>
<line x1="348.20" y1="189.40" x2="368.10" y2="189.40" stroke-width="1.3"/>
<line x1="352.98" y1="185.40" x2="363.32" y2="185.40" stroke-width="1.0"/>
<line x1="352.98" y1="193.40" x2="363.32" y2="193.40" stroke-width="1.0"/>
<line x1="358.15" y1="185.40" x2="358.15" y2="193.40" stroke-width="1.0"/>
<line x1="44.80" y1="276.50" x2="44.80" y2="359.20" stroke-width="1.0"/>
<line x1="44.30" y1="358.70" x2="168.50" y2="358.70" stroke-width="1.0"/>
<line x1="42.40" y1="277.00" x2="44.80" y2="277.00" stroke-width="0.9"/>
<text x="41.60" y="279.50" font-size="7.0" class="r" stroke-width="0.21" text-anchor="end">6.5</text>
<line x1="42.40" y1="290.60" x2="44.80" y2="290.60" stroke-width="0.9"/>
<text x="41.60" y="293.10" font-size="7.0" class="r" stroke-width="0.21" text-anchor="end">6.0</text>
<line x1="42.40" y1="304.20" x2="44.80" y2="304.20" stroke-width="0.9"/>
<text x="41.60" y="306.70" font-size="7.0" class="r" stroke-width="0.21" text-anchor="end">5.5</text>
<line x1="42.40" y1="317.80" x2="44.80" y2="317.80" stroke-width="0.9"/>
<text x="41.60" y="320.30" font-size="7.0" class="r" stroke-width="0.21" text-anchor="end">5.0</text>
<line x1="42.40" y1="331.50" x2="44.80" y2="331.50" stroke-width="0.9"/>
<text x="41.60" y="334.00" font-size="7.0" class="r" stroke-width="0.21" text-anchor="end">4.5</text>
<line x1="42.40" y1="345.10" x2="44.80" y2="345.10" stroke-width="0.9"/>
<text x="41.60" y="347.60" font-size="7.0" class="r" stroke-width="0.21" text-anchor="end">4.0</text>
<line x1="42.40" y1="358.70" x2="44.80" y2="358.70" stroke-width="0.9"/>
<text x="41.60" y="361.20" font-size="7.0" class="r" stroke-width="0.21" text-anchor="end">3.5</text>
<line x1="44.80" y1="358.70" x2="44.80" y2="361.10" stroke-width="0.9"/>
<text x="45.00" y="367.90" font-size="6.8" class="r" stroke-width="0.20" text-anchor="middle">-12</text>
<line x1="65.30" y1="358.70" x2="65.30" y2="361.10" stroke-width="0.9"/>
<text x="65.50" y="367.90" font-size="6.8" class="r" stroke-width="0.20" text-anchor="middle">-11</text>
<line x1="85.80" y1="358.70" x2="85.80" y2="361.10" stroke-width="0.9"/>
<text x="86.00" y="367.90" font-size="6.8" class="r" stroke-width="0.20" text-anchor="middle">-10</text>
<line x1="106.30" y1="358.70" x2="106.30" y2="361.10" stroke-width="0.9"/>
<text x="106.50" y="367.90" font-size="6.8" class="r" stroke-width="0.20" text-anchor="middle">-9</text>
<line x1="126.80" y1="358.70" x2="126.80" y2="361.10" stroke-width="0.9"/>
<text x="127.00" y="367.90" font-size="6.8" class="r" stroke-width="0.20" text-anchor="middle">-8</text>
<line x1="147.40" y1="358.70" x2="147.40" y2="361.10" stroke-width="0.9"/>
<text x="147.60" y="367.90" font-size="6.8" class="r" stroke-width="0.20" text-anchor="middle">-7</text>
<line x1="168.00" y1="358.70" x2="168.00" y2="361.10" stroke-width="0.9"/>
<text x="168.20" y="367.90" font-size="6.8" class="r" stroke-width="0.20" text-anchor="middle">-6</text>
<text x="26.30" y="316.90" font-size="9.0" class="r" stroke-width="0.27" text-anchor="middle" transform="rotate(-90 26.30 316.90)">pSTAT3 expression (Log2)</text>
<text x="105.20" y="382.10" font-size="9.2" class="r" stroke-width="0.28" text-anchor="middle">FLT3 Expression (Log2)</text>
<text x="56.80" y="283.00" font-size="8.0" class="r" stroke-width="0.22">r<tspan dy="-2.6" font-size="4.6">2</tspan><tspan dy="2.6">=0.62, p&lt;0.005</tspan></text>
<circle cx="71.30" cy="335.55" r="1.85"/>
<circle cx="87.90" cy="324.65" r="1.85"/>
<circle cx="87.90" cy="338.65" r="1.85"/>
<circle cx="97.80" cy="321.65" r="1.85"/>
<circle cx="115.80" cy="336.55" r="1.85"/>
<circle cx="126.40" cy="315.85" r="1.85"/>
<circle cx="127.30" cy="324.65" r="1.85"/>
<circle cx="138.20" cy="310.25" r="1.85"/>
<circle cx="142.00" cy="315.85" r="1.85"/>
<circle cx="145.20" cy="293.85" r="1.85"/>
<circle cx="147.50" cy="293.85" r="1.85"/>
<line x1="71.30" y1="339.70" x2="147.00" y2="305.60" stroke-width="1.3"/>
<line x1="229.20" y1="276.40" x2="229.20" y2="359.70" stroke-width="1.0"/>
<line x1="228.70" y1="359.20" x2="354.80" y2="359.20" stroke-width="1.0"/>
<line x1="226.80" y1="276.90" x2="229.20" y2="276.90" stroke-width="0.9"/>
<text x="226.00" y="279.40" font-size="7.0" class="r" stroke-width="0.21" text-anchor="end">6.5</text>
<line x1="226.80" y1="290.60" x2="229.20" y2="290.60" stroke-width="0.9"/>
<text x="226.00" y="293.10" font-size="7.0" class="r" stroke-width="0.21" text-anchor="end">6.0</text>
<line x1="226.80" y1="304.30" x2="229.20" y2="304.30" stroke-width="0.9"/>
<text x="226.00" y="306.80" font-size="7.0" class="r" stroke-width="0.21" text-anchor="end">5.5</text>
<line x1="226.80" y1="318.00" x2="229.20" y2="318.00" stroke-width="0.9"/>
<text x="226.00" y="320.50" font-size="7.0" class="r" stroke-width="0.21" text-anchor="end">5.0</text>
<line x1="226.80" y1="331.80" x2="229.20" y2="331.80" stroke-width="0.9"/>
<text x="226.00" y="334.30" font-size="7.0" class="r" stroke-width="0.21" text-anchor="end">4.5</text>
<line x1="226.80" y1="345.50" x2="229.20" y2="345.50" stroke-width="0.9"/>
<text x="226.00" y="348.00" font-size="7.0" class="r" stroke-width="0.21" text-anchor="end">4.0</text>
<line x1="226.80" y1="359.20" x2="229.20" y2="359.20" stroke-width="0.9"/>
<text x="226.00" y="361.70" font-size="7.0" class="r" stroke-width="0.21" text-anchor="end">3.5</text>
<line x1="229.30" y1="359.20" x2="229.30" y2="361.60" stroke-width="0.9"/>
<text x="229.50" y="368.40" font-size="6.8" class="r" stroke-width="0.20" text-anchor="middle">-9</text>
<line x1="254.30" y1="359.20" x2="254.30" y2="361.60" stroke-width="0.9"/>
<text x="254.50" y="368.40" font-size="6.8" class="r" stroke-width="0.20" text-anchor="middle">-8</text>
<line x1="279.30" y1="359.20" x2="279.30" y2="361.60" stroke-width="0.9"/>
<text x="279.50" y="368.40" font-size="6.8" class="r" stroke-width="0.20" text-anchor="middle">-7</text>
<line x1="304.30" y1="359.20" x2="304.30" y2="361.60" stroke-width="0.9"/>
<text x="304.50" y="368.40" font-size="6.8" class="r" stroke-width="0.20" text-anchor="middle">-6</text>
<line x1="329.30" y1="359.20" x2="329.30" y2="361.60" stroke-width="0.9"/>
<text x="329.50" y="368.40" font-size="6.8" class="r" stroke-width="0.20" text-anchor="middle">-5</text>
<line x1="354.30" y1="359.20" x2="354.30" y2="361.60" stroke-width="0.9"/>
<text x="354.50" y="368.40" font-size="6.8" class="r" stroke-width="0.20" text-anchor="middle">-4</text>
<text x="209.40" y="317.70" font-size="9.2" class="r" stroke-width="0.28" text-anchor="middle" transform="rotate(-90 209.40 317.70)">pSTAT3 expression (Log2)</text>
<text x="292.00" y="381.20" font-size="9.05" class="r" stroke-width="0.27" text-anchor="middle">c-KIT Expression (Log2)</text>
<text x="240.60" y="283.00" font-size="8.0" class="r" stroke-width="0.22">r<tspan dy="-2.6" font-size="4.6">2</tspan><tspan dy="2.6">=0.71, p&lt;0.005</tspan></text>
<circle cx="245.80" cy="341.15" r="1.85"/>
<circle cx="271.70" cy="325.65" r="1.85"/>
<circle cx="279.50" cy="336.55" r="1.85"/>
<circle cx="288.20" cy="311.25" r="1.85"/>
<circle cx="288.20" cy="316.35" r="1.85"/>
<circle cx="294.20" cy="316.65" r="1.85"/>
<circle cx="304.80" cy="322.25" r="1.85"/>
<circle cx="336.60" cy="316.65" r="1.85"/>
<circle cx="340.90" cy="293.35" r="1.85"/>
<circle cx="340.90" cy="295.05" r="1.85"/>
<line x1="245.80" y1="338.50" x2="340.90" y2="300.50" stroke-width="1.3"/>
<text x="70.50" y="416.30" font-size="8.4" class="r" stroke-width="0.25" text-anchor="middle">FLT3 ligand</text>
<line x1="18.50" y1="424.50" x2="18.50" y2="493.50" stroke-width="1.0"/>
<line x1="18.00" y1="493.00" x2="124.30" y2="493.00" stroke-width="1.0"/>
<line x1="16.30" y1="425.00" x2="18.50" y2="425.00" stroke-width="0.9"/>
<text x="16.20" y="426.95" font-size="5.4" class="r" stroke-width="0.22" text-anchor="end">15</text>
<line x1="16.30" y1="447.70" x2="18.50" y2="447.70" stroke-width="0.9"/>
<text x="16.20" y="449.65" font-size="5.4" class="r" stroke-width="0.22" text-anchor="end">10</text>
<line x1="16.30" y1="470.30" x2="18.50" y2="470.30" stroke-width="0.9"/>
<text x="16.20" y="472.25" font-size="5.4" class="r" stroke-width="0.22" text-anchor="end">5</text>
<line x1="16.30" y1="493.00" x2="18.50" y2="493.00" stroke-width="0.9"/>
<text x="16.20" y="494.95" font-size="5.4" class="r" stroke-width="0.22" text-anchor="end">0</text>
<line x1="36.30" y1="493.00" x2="36.30" y2="495.40" stroke-width="0.9"/>
<text x="38.50" y="499.60" font-size="6.1" font-weight="bold" class="b" stroke-width="0.22" text-anchor="end" transform="rotate(-45 38.50 499.60)">0 min</text>
<line x1="70.80" y1="493.00" x2="70.80" y2="495.40" stroke-width="0.9"/>
<text x="73.00" y="499.60" font-size="6.1" font-weight="bold" class="b" stroke-width="0.22" text-anchor="end" transform="rotate(-45 73.00 499.60)">20 min</text>
<line x1="105.00" y1="493.00" x2="105.00" y2="495.40" stroke-width="0.9"/>
<text x="107.20" y="499.60" font-size="6.1" font-weight="bold" class="b" stroke-width="0.22" text-anchor="end" transform="rotate(-45 107.20 499.60)">30 min</text>
<text x="6.00" y="459.60" font-size="7.55" class="r" stroke-width="0.38" text-anchor="middle" transform="rotate(-90 6.00 459.60)">MCF (pSTAT3/IgG)</text>
<line x1="23.80" y1="479.30" x2="47.50" y2="479.30" stroke-width="1.2"/>
<circle cx="36.30" cy="475.80" r="1.5"/>
<circle cx="32.00" cy="478.00" r="1.5"/>
<circle cx="40.00" cy="481.30" r="1.5"/>
<circle cx="35.80" cy="482.50" r="1.5"/>
<line x1="58.80" y1="468.00" x2="82.00" y2="468.00" stroke-width="1.2"/>
<circle cx="70.50" cy="457.50" r="1.5"/>
<circle cx="68.00" cy="466.30" r="1.5"/>
<circle cx="72.50" cy="468.80" r="1.5"/>
<circle cx="70.50" cy="480.50" r="1.5"/>
<line x1="93.00" y1="472.00" x2="116.30" y2="472.00" stroke-width="1.2"/>
<circle cx="105.00" cy="467.00" r="1.5"/>
<circle cx="102.50" cy="470.00" r="1.5"/>
<circle cx="107.50" cy="471.30" r="1.5"/>
<circle cx="105.00" cy="480.50" r="1.5"/>
<text x="201.50" y="416.30" font-size="8.4" class="r" stroke-width="0.25" text-anchor="middle">SCF</text>
<line x1="149.30" y1="424.10" x2="149.30" y2="492.90" stroke-width="1.0"/>
<line x1="148.80" y1="492.40" x2="254.30" y2="492.40" stroke-width="1.0"/>
<line x1="147.10" y1="424.60" x2="149.30" y2="424.60" stroke-width="0.9"/>
<text x="146.70" y="426.30" font-size="4.9" font-weight="bold" class="b" stroke-width="0.25" text-anchor="end">10</text>
<line x1="147.10" y1="438.20" x2="149.30" y2="438.20" stroke-width="0.9"/>
<text x="146.70" y="439.90" font-size="4.9" font-weight="bold" class="b" stroke-width="0.25" text-anchor="end">8</text>
<line x1="147.10" y1="451.80" x2="149.30" y2="451.80" stroke-width="0.9"/>
<text x="146.70" y="453.50" font-size="4.9" font-weight="bold" class="b" stroke-width="0.25" text-anchor="end">6</text>
<line x1="147.10" y1="465.40" x2="149.30" y2="465.40" stroke-width="0.9"/>
<text x="146.70" y="467.10" font-size="4.9" font-weight="bold" class="b" stroke-width="0.25" text-anchor="end">4</text>
<line x1="147.10" y1="478.90" x2="149.30" y2="478.90" stroke-width="0.9"/>
<text x="146.70" y="480.60" font-size="4.9" font-weight="bold" class="b" stroke-width="0.25" text-anchor="end">2</text>
<line x1="147.10" y1="492.40" x2="149.30" y2="492.40" stroke-width="0.9"/>
<text x="146.70" y="494.10" font-size="4.9" font-weight="bold" class="b" stroke-width="0.25" text-anchor="end">0</text>
<line x1="166.80" y1="492.40" x2="166.80" y2="494.80" stroke-width="0.9"/>
<text x="169.00" y="499.00" font-size="6.1" font-weight="bold" class="b" stroke-width="0.22" text-anchor="end" transform="rotate(-45 169.00 499.00)">0 min</text>
<line x1="201.30" y1="492.40" x2="201.30" y2="494.80" stroke-width="0.9"/>
<text x="203.50" y="499.00" font-size="6.1" font-weight="bold" class="b" stroke-width="0.22" text-anchor="end" transform="rotate(-45 203.50 499.00)">20 min</text>
<line x1="235.80" y1="492.40" x2="235.80" y2="494.80" stroke-width="0.9"/>
<text x="238.00" y="499.00" font-size="6.1" font-weight="bold" class="b" stroke-width="0.22" text-anchor="end" transform="rotate(-45 238.00 499.00)">30 min</text>
<text x="137.00" y="459.00" font-size="7.55" class="r" stroke-width="0.38" text-anchor="middle" transform="rotate(-90 137.00 459.00)">MCF (pSTAT3/IgG)</text>
<line x1="155.00" y1="467.00" x2="178.30" y2="467.00" stroke-width="1.2"/>
<circle cx="164.50" cy="460.00" r="1.5"/>
<circle cx="168.80" cy="463.30" r="1.5"/>
<circle cx="164.50" cy="473.30" r="1.5"/>
<circle cx="168.80" cy="471.80" r="1.5"/>
<line x1="189.50" y1="453.80" x2="213.00" y2="453.80" stroke-width="1.2"/>
<circle cx="201.30" cy="443.30" r="1.5"/>
<circle cx="199.30" cy="453.80" r="1.5"/>
<circle cx="203.80" cy="453.80" r="1.5"/>
<circle cx="201.30" cy="465.50" r="1.5"/>
<line x1="224.30" y1="460.50" x2="247.50" y2="460.50" stroke-width="1.2"/>
<circle cx="235.80" cy="445.50" r="1.5"/>
<circle cx="235.80" cy="458.00" r="1.5"/>
<circle cx="233.80" cy="469.30" r="1.5"/>
<circle cx="238.00" cy="468.30" r="1.5"/>
<text x="340.60" y="416.30" font-size="8.4" class="r" stroke-width="0.25" text-anchor="middle">FLT3 ligand</text>
<line x1="290.10" y1="423.30" x2="290.10" y2="491.30" stroke-width="1.0"/>
<line x1="289.60" y1="490.80" x2="392.30" y2="490.80" stroke-width="1.0"/>
<line x1="287.90" y1="423.80" x2="290.10" y2="423.80" stroke-width="0.9"/>
<text x="287.80" y="425.75" font-size="5.4" class="r" stroke-width="0.22" text-anchor="end">15</text>
<line x1="287.90" y1="446.10" x2="290.10" y2="446.10" stroke-width="0.9"/>
<text x="287.80" y="448.05" font-size="5.4" class="r" stroke-width="0.22" text-anchor="end">10</text>
<line x1="287.90" y1="468.50" x2="290.10" y2="468.50" stroke-width="0.9"/>
<text x="287.80" y="470.45" font-size="5.4" class="r" stroke-width="0.22" text-anchor="end">5</text>
<line x1="287.90" y1="490.80" x2="290.10" y2="490.80" stroke-width="0.9"/>
<text x="287.80" y="492.75" font-size="5.4" class="r" stroke-width="0.22" text-anchor="end">0</text>
<line x1="306.80" y1="490.80" x2="306.80" y2="493.20" stroke-width="0.9"/>
<text x="309.00" y="498.10" font-size="7.0" font-weight="bold" class="b" stroke-width="0.15" text-anchor="end" transform="rotate(-43 309.00 498.10)">0 min</text>
<line x1="340.80" y1="490.80" x2="340.80" y2="493.20" stroke-width="0.9"/>
<text x="343.00" y="498.10" font-size="7.0" font-weight="bold" class="b" stroke-width="0.15" text-anchor="end" transform="rotate(-43 343.00 498.10)">20 min</text>
<line x1="374.50" y1="490.80" x2="374.50" y2="493.20" stroke-width="0.9"/>
<text x="376.70" y="498.10" font-size="7.0" font-weight="bold" class="b" stroke-width="0.15" text-anchor="end" transform="rotate(-43 376.70 498.10)">30 min</text>
<text x="277.70" y="457.70" font-size="7.55" class="r" stroke-width="0.38" text-anchor="middle" transform="rotate(-90 277.70 457.70)">MCF (pSTAT3/IgG)</text>
<line x1="295.80" y1="469.50" x2="318.80" y2="469.50" stroke-width="1.2"/>
<circle cx="307.00" cy="462.50" r="1.5"/>
<circle cx="307.00" cy="470.00" r="1.5"/>
<circle cx="307.00" cy="476.30" r="1.5"/>
<line x1="329.50" y1="455.00" x2="352.50" y2="455.00" stroke-width="1.2"/>
<circle cx="340.80" cy="437.00" r="1.5"/>
<circle cx="340.80" cy="461.30" r="1.5"/>
<circle cx="340.80" cy="467.00" r="1.5"/>
<line x1="363.30" y1="442.50" x2="385.80" y2="442.50" stroke-width="1.2"/>
<circle cx="374.50" cy="428.80" r="1.5"/>
<circle cx="374.50" cy="443.30" r="1.5"/>
<circle cx="374.50" cy="456.30" r="1.5"/>
<text x="468.80" y="416.30" font-size="8.4" class="r" stroke-width="0.25" text-anchor="middle">SCF</text>
<line x1="418.10" y1="423.30" x2="418.10" y2="491.30" stroke-width="1.0"/>
<line x1="417.60" y1="490.80" x2="520.00" y2="490.80" stroke-width="1.0"/>
<line x1="415.90" y1="423.80" x2="418.10" y2="423.80" stroke-width="0.9"/>
<text x="415.50" y="425.50" font-size="4.9" font-weight="bold" class="b" stroke-width="0.25" text-anchor="end">10</text>
<line x1="415.90" y1="437.20" x2="418.10" y2="437.20" stroke-width="0.9"/>
<text x="415.50" y="438.90" font-size="4.9" font-weight="bold" class="b" stroke-width="0.25" text-anchor="end">8</text>
<line x1="415.90" y1="450.60" x2="418.10" y2="450.60" stroke-width="0.9"/>
<text x="415.50" y="452.30" font-size="4.9" font-weight="bold" class="b" stroke-width="0.25" text-anchor="end">6</text>
<line x1="415.90" y1="464.00" x2="418.10" y2="464.00" stroke-width="0.9"/>
<text x="415.50" y="465.70" font-size="4.9" font-weight="bold" class="b" stroke-width="0.25" text-anchor="end">4</text>
<line x1="415.90" y1="477.40" x2="418.10" y2="477.40" stroke-width="0.9"/>
<text x="415.50" y="479.10" font-size="4.9" font-weight="bold" class="b" stroke-width="0.25" text-anchor="end">2</text>
<line x1="415.90" y1="490.80" x2="418.10" y2="490.80" stroke-width="0.9"/>
<text x="415.50" y="492.50" font-size="4.9" font-weight="bold" class="b" stroke-width="0.25" text-anchor="end">0</text>
<line x1="435.00" y1="490.80" x2="435.00" y2="493.20" stroke-width="0.9"/>
<text x="437.20" y="498.10" font-size="7.0" font-weight="bold" class="b" stroke-width="0.15" text-anchor="end" transform="rotate(-43 437.20 498.10)">0 min</text>
<line x1="468.80" y1="490.80" x2="468.80" y2="493.20" stroke-width="0.9"/>
<text x="471.00" y="498.10" font-size="7.0" font-weight="bold" class="b" stroke-width="0.15" text-anchor="end" transform="rotate(-43 471.00 498.10)">20 min</text>
<line x1="502.50" y1="490.80" x2="502.50" y2="493.20" stroke-width="0.9"/>
<text x="504.70" y="498.10" font-size="7.0" font-weight="bold" class="b" stroke-width="0.15" text-anchor="end" transform="rotate(-43 504.70 498.10)">30 min</text>
<text x="405.30" y="457.70" font-size="7.55" class="r" stroke-width="0.38" text-anchor="middle" transform="rotate(-90 405.30 457.70)">MCF (pSTAT3/IgG)</text>
<line x1="423.80" y1="460.50" x2="446.80" y2="460.50" stroke-width="1.2"/>
<circle cx="435.00" cy="449.50" r="1.5"/>
<circle cx="437.00" cy="464.30" r="1.5"/>
<circle cx="433.00" cy="468.00" r="1.5"/>
<line x1="457.50" y1="456.80" x2="480.00" y2="456.80" stroke-width="1.2"/>
<circle cx="468.80" cy="445.00" r="1.5"/>
<circle cx="470.80" cy="462.00" r="1.5"/>
<circle cx="466.80" cy="464.50" r="1.5"/>
<line x1="491.30" y1="443.30" x2="514.30" y2="443.30" stroke-width="1.2"/>
<circle cx="502.50" cy="432.50" r="1.5"/>
<circle cx="504.50" cy="447.50" r="1.5"/>
<circle cx="500.50" cy="450.50" r="1.5"/>
</g></svg></body></html>
